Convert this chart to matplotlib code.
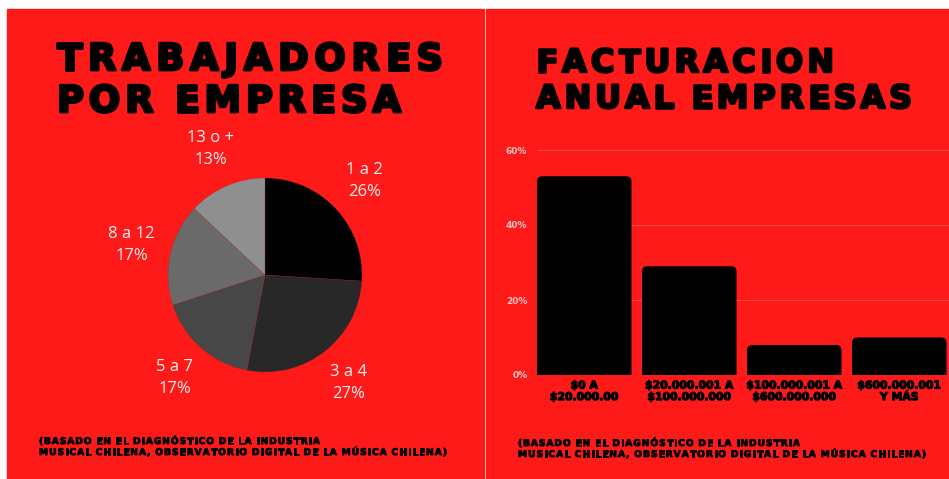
import matplotlib.pyplot as plt
import matplotlib.patheffects as pe
from matplotlib.patches import Rectangle, FancyBboxPatch

W, H = 949, 479
ROJO = '#ff1a1a'

# Trabajadores por empresa
tramos = ['1 a 2', '3 a 4', '5 a 7', '8 a 12', '13 o +']
porcentajes = [26, 27, 17, 17, 13]
grises = ['#000000', '#282828', '#474747', '#6a6a6a', '#8f8f8f']

# Facturacion anual (% de empresas)
rangos = ['$0 A\n$20.000.00', '$20.000.001 A\n$100.000.000',
          '$100.000.001 A\n$600.000.000', '$600.000.001\nY MÁS']
facturacion = [53, 29, 8, 10]
ticks_y = [0, 20, 40, 60]

fuente = ['(BASADO EN EL DIAGNÓSTICO DE LA INDUSTRIA',
          'MUSICAL CHILENA, OBSERVATORIO DIGITAL DE LA MÚSICA CHILENA)']


def fx(x):
    return x / W


def fy(y):
    return 1 - y / H


def texto_espaciado(fig, txt, x0, base, ancho, size, grosor, **kw):
    # dibuja letra por letra para repartir el espaciado en el ancho dado
    r = fig.canvas.get_renderer()
    trazo = [pe.withStroke(linewidth=grosor, foreground='black')]
    letras, anchos = [], []
    for c in txt:
        t = fig.text(0, 0, c, fontsize=size, va='baseline', ha='left',
                     path_effects=trazo, **kw)
        if c == ' ':
            w = size * 0.3 * 100 / 72
        else:
            w = t.get_window_extent(r).width
        letras.append(t)
        anchos.append(w)
    extra = (ancho - sum(anchos)) / (len(txt) - 1)
    x = x0
    for t, w in zip(letras, anchos):
        t.set_position((fx(x), fy(base)))
        x += w + extra


fig = plt.figure(figsize=(W / 100, H / 100), dpi=100, facecolor='white')

# paneles rojos
fig.add_artist(Rectangle((fx(7), fy(479)), (483.5 - 7) / W, (479 - 9) / H,
                         transform=fig.transFigure, color=ROJO, zorder=0))
fig.add_artist(Rectangle((fx(486), fy(479)), (W - 486) / W, (479 - 9) / H,
                         transform=fig.transFigure, color=ROJO, zorder=0))

negrita = dict(color='black', family='DejaVu Sans', fontweight='bold')
texto_espaciado(fig, 'TRABAJADORES', 57, 70, 386, 26.5, 2.0, **negrita)
texto_espaciado(fig, 'POR EMPRESA', 57, 112, 344, 26.5, 2.0, **negrita)
texto_espaciado(fig, 'FACTURACION', 536, 72, 298, 23, 1.8, **negrita)
texto_espaciado(fig, 'ANUAL EMPRESAS', 536, 108, 376, 23, 1.8, **negrita)

texto_espaciado(fig, fuente[0], 39, 444, 281, 6.6, 0.6, **negrita)
texto_espaciado(fig, fuente[1], 39, 455, 408, 6.6, 0.6, **negrita)
texto_espaciado(fig, fuente[0], 518, 446, 282, 6.6, 0.6, **negrita)
texto_espaciado(fig, fuente[1], 518, 457, 408, 6.6, 0.6, **negrita)

# grafico de torta
r = 97
ax1 = fig.add_axes([fx(265 - r), fy(275 + r), 2 * r / W, 2 * r / H])
etiquetas = [f'{t}\n{p}%' for t, p in zip(tramos, porcentajes)]
wedges, textos = ax1.pie(porcentajes, labels=etiquetas, colors=grises,
                         startangle=90, counterclock=False, labeldistance=1.41,
                         wedgeprops=dict(edgecolor='#a02020', linewidth=0.15),
                         textprops=dict(color='#fff0f0', fontsize=12,
                                        family='Open Sans', linespacing=1.5))
for t in textos:
    t.set_ha('center')
    t.set_va('center')
ax1.set_xlim(-1, 1)
ax1.set_ylim(-1, 1)
ax1.axis('off')

# grafico de barras
ax2 = fig.add_axes([fx(537), fy(375), 420 / W, 61 * 3.75 / H])
ax2.set_facecolor('none')
ax2.set_xlim(-0.45, 3.55)
ax2.set_ylim(0, 61)
for i, v in enumerate(facturacion):
    ax2.add_patch(FancyBboxPatch((i - 0.45, -3), 0.9, v + 3,
                                 boxstyle='round,pad=0,rounding_size=0.05',
                                 mutation_aspect=28, fc='black', ec='none',
                                 zorder=3))
ax2.set_yticks(ticks_y, [f'{v}%' for v in ticks_y])
ax2.yaxis.grid(True, color='#ff4545', linewidth=0.8)
ax2.set_axisbelow(True)
ax2.set_xticks(range(len(rangos)), rangos)
for s in ax2.spines.values():
    s.set_visible(False)
ax2.tick_params(axis='y', length=0, pad=7, labelsize=6.5, labelcolor='#ffc4c4')
ax2.tick_params(axis='x', length=0, pad=4, labelsize=7.8)
for t in ax2.get_yticklabels():
    t.set_fontweight('bold')
for t in ax2.get_xticklabels():
    t.set_fontweight('bold')
    t.set_linespacing(1.2)
    t.set_path_effects([pe.withStroke(linewidth=0.8, foreground='black')])

fig.savefig('out.png', dpi=100, facecolor='white')
